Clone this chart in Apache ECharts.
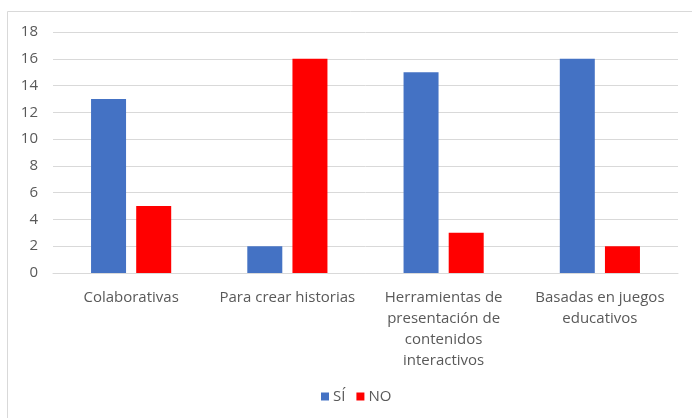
<!DOCTYPE html>
<html>
<head>
<meta charset="utf-8">
<script src="https://cdn.jsdelivr.net/npm/echarts@6/dist/echarts.min.js"></script>
<style>
  html, body { margin: 0; padding: 0; background: #fff; }
  #chart { width: 692px; height: 418px; }
</style>
</head>
<body>
<div id="chart"></div>
<script>
// Tipos de herramientas y respuestas
const categories = [
  'Colaborativas',
  'Para crear historias',
  'Herramientas de\npresentación de\ncontenidos\ninteractivos',
  'Basadas en juegos\neducativos'
];
const seriesNames = ['SÍ', 'NO'];
const siValues = [13, 2, 15, 16];
const noValues = [5, 16, 3, 2];

const textColor = '#595959';
const gridColor = '#d9d9d9';
const fontFamily = '"Open Sans", Lato, sans-serif';

const chart = echarts.init(document.getElementById('chart'));
chart.setOption({
  animation: false,
  backgroundColor: '#fff',
  textStyle: { fontFamily: fontFamily },
  graphic: [{
    type: 'rect',
    shape: { x: 7.5, y: 11.5, width: 700, height: 420 },
    style: { fill: 'none', stroke: gridColor, lineWidth: 1 },
    silent: true
  }],
  grid: { left: 53, right: 14, top: 32, bottom: 145, containLabel: false },
  legend: {
    top: 389,
    left: 321,
    padding: 0,
    icon: 'rect',
    itemWidth: 8,
    itemHeight: 8,
    itemGap: 11,
    data: seriesNames,
    textStyle: { color: textColor, fontSize: 15, fontFamily: fontFamily, padding: [0, 0, 0, -1] }
  },
  xAxis: {
    type: 'category',
    data: categories,
    axisLine: { show: true, lineStyle: { color: gridColor, width: 1 } },
    axisTick: { show: false },
    axisLabel: {
      color: textColor, fontSize: 15, fontFamily: fontFamily,
      margin: 14, lineHeight: 21, interval: 0, align: 'center'
    }
  },
  yAxis: {
    type: 'value',
    min: 0, max: 18, interval: 2,
    axisLine: { show: false },
    axisTick: { show: false },
    splitLine: { lineStyle: { color: gridColor, width: 1 } },
    axisLabel: { color: textColor, fontSize: 15, fontFamily: fontFamily, margin: 15 }
  },
  series: [
    {
      name: seriesNames[0], type: 'bar', data: siValues,
      barWidth: 35, barGap: '29%',
      itemStyle: { color: '#4472C4' }
    },
    {
      name: seriesNames[1], type: 'bar', data: noValues,
      barWidth: 35, barGap: '29%',
      itemStyle: { color: '#FF0000' }
    }
  ]
});
</script>
</body>
</html>
